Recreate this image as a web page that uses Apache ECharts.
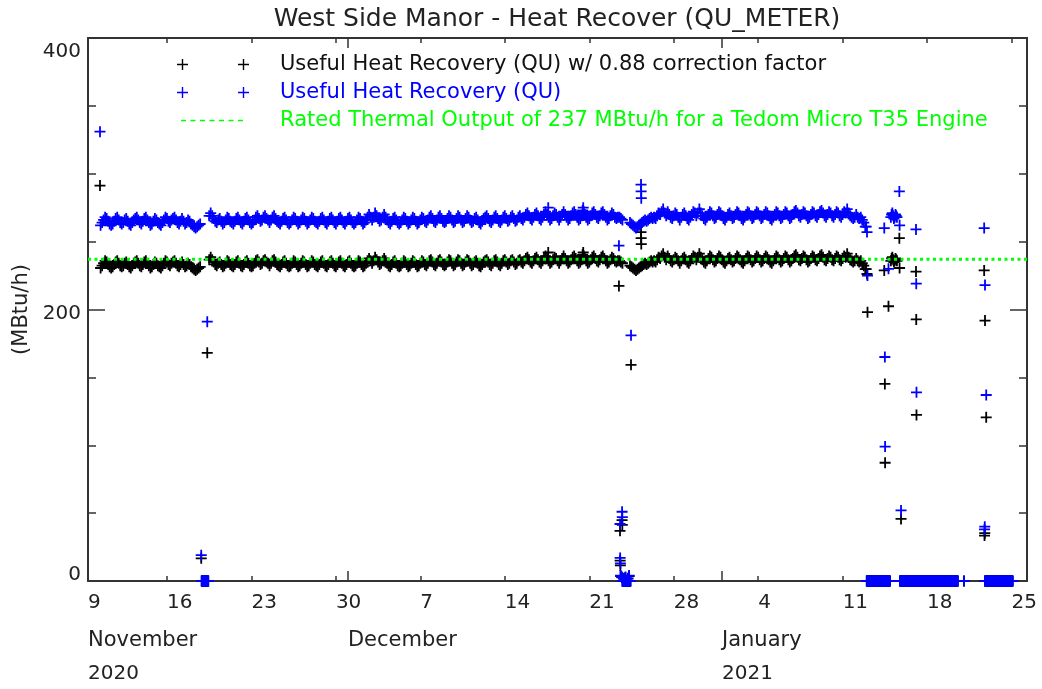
<!DOCTYPE html>
<html><head><meta charset="utf-8">
<script src="https://cdn.jsdelivr.net/npm/echarts@6/dist/echarts.min.js"></script>
<style>html,body{margin:0;padding:0;background:#fff}#c{width:1042px;height:689px}</style>
</head><body><div id="c"></div><script>
// x values are days since 9 November 2020 00:00
const X_MIN = 0.456, X_MAX = 78.28;
const dayTicks = [7,14,21,28,35,42,49,56,63,70,77];
const dayLabels = ['9','16','23','30','7','14','21','28','4','11','18','25'];
const monthTicks = [22, 53];
const monthLabels = ['November','December','January'];
const yearTicks = [53];
const yearLabels = ['2020','2021'];
const yMinorTicks = [50,100,150,250,300,350];
const yMajorTicks = [200];
const yLabels = [0,200,400];
const RATED = 237;
const CORR = 0.88;
const titleText = 'West Side Manor - Heat Recover (QU_METER)';
const nameCorr = 'Useful Heat Recovery (QU) w/ 0.88 correction factor';
const nameQU = 'Useful Heat Recovery (QU)';
const nameRated = 'Rated Thermal Output of 237 MBtu/h for a Tedom Micro T35 Engine';

// QU band, one sample every 3 hours starting at bandStart (one row = one day)
const bandStart = 1.5, bandStep = 0.125;
const bandQU = [
262,264,266,268,267,265,263,262,
263,265,267,268,266,264,263,264,
266,267,265,263,262,264,266,267,
268,266,264,263,265,267,268,266,
264,262,263,265,267,266,264,263,
262,264,266,268,267,265,264,266,
267,268,266,264,263,265,267,265,
263,264,266,265,263,262,261,260,
261,262,263,null,null,null,null,null,
269,271,269,267,265,264,266,267,
265,263,264,266,268,267,265,264,
263,265,267,268,266,264,263,265,
267,268,266,264,263,264,266,268,
269,267,265,266,268,269,267,266,
264,266,268,269,267,265,264,263,
265,267,268,266,264,263,264,266,
268,267,265,263,264,266,268,267,
265,263,264,266,268,267,265,264,
263,265,267,268,266,264,263,265,
267,268,266,264,263,265,267,268,
266,264,263,265,267,268,266,264,
263,264,266,268,267,265,263,264,
266,268,270,268,266,268,271,269,
267,265,266,268,270,268,266,264,
263,265,267,268,266,264,263,264,
266,268,267,265,263,264,266,268,
267,265,263,264,266,268,267,265,
264,266,268,269,267,265,264,266,
268,269,267,265,264,265,267,269,
268,266,264,265,267,269,268,266,
264,265,267,269,268,266,264,265,
267,268,266,264,263,265,267,268,
269,267,265,264,266,268,269,267,
265,264,266,268,269,267,265,266,
268,269,267,265,266,268,269,267,
266,268,270,271,269,267,266,268,
270,271,269,267,266,268,270,272,
270,268,266,267,269,271,270,268,
266,268,270,272,270,268,266,267,
269,271,272,270,268,266,267,269,
271,270,268,266,267,269,271,272,
270,268,267,269,271,272,270,268,
266,267,269,271,270,268,267,268,
268,267,266,null,null,null,null,264,
263,262,261,260,261,262,263,264,
265,266,265,266,267,268,267,268,
267,269,271,270,272,274,271,269,
272,270,268,267,269,271,270,268,
266,268,270,271,269,267,266,268,
270,272,271,269,271,274,271,269,
267,266,268,270,272,271,269,267,
268,270,272,271,269,267,266,268,
270,271,269,267,268,270,272,271,
269,267,266,268,270,272,271,269,
267,268,270,272,271,269,267,268,
270,272,271,269,267,266,268,270,
272,271,269,267,268,270,272,271,
269,267,268,270,272,273,271,269,
268,270,272,271,269,267,268,270,
272,271,269,268,270,272,273,271,
269,268,270,272,271,269,268,270,
272,271,269,268,270,272,271,274,
271,269,268,267,268,270,268,267,
268,266,264,261,null,null,null,null
];

// isolated QU readings [day, MBtu/h]
const outliersQU = [
[1.45,331],
[9.84,19],[10.34,191],
[38.6,275],[41.45,273],[41.5,275],[41.55,272],
[44.46,247],[44.55,42],[44.56,17],[44.58,13],[44.6,4],[44.7,3],[44.72,51],[44.74,47],
[44.85,2],[45.0,3],[45.2,2],[45.3,4],
[45.46,181],[46.29,292],[46.3,287],[46.31,282],
[64.95,261],[65.02,257],[65.06,225],
[66.45,260],[66.5,165],[66.52,99],[66.8,230],
[67.0,268],[67.06,270],[67.12,271],[67.19,269],[67.25,267],[67.31,268],[67.38,270],[67.44,269],[67.5,268],
[67.7,287],[67.72,262],[67.84,52],
[69.08,259],[69.1,219],[69.12,139],
[74.73,260],[74.76,38],[74.78,40],[74.8,218],[74.9,137]
];

// periods with hourly readings of 0 [from day, to day]
const zeroRuns = [[9.88,10.43],[44.75,45.45],[65.0,66.95],[67.75,72.55],[73.05,73.05],[74.8,77.1]];

const quPoints = [];
bandQU.forEach((v, i) => { if (v !== null) quPoints.push([bandStart + i * bandStep, v]); });
outliersQU.forEach(p => quPoints.push(p));
zeroRuns.forEach(([a, b]) => { for (let t = a; t <= b + 1e-9; t += 1 / 24) quPoints.push([t, 0]); });
const corrPoints = quPoints.map(([d, v]) => [d, v * CORR]);

const PLUS = 'path://M4.6,0H6.4V4.6H11V6.4H6.4V11H4.6V6.4H0V4.6H4.6Z';
const PLUS_PAIR = 'path://M4.8,0H6.2V4.8H11V6.2H6.2V11H4.8V6.2H0V4.8H4.8Z M65.8,0H67.2V4.8H72V6.2H67.2V11H65.8V6.2H61V4.8H65.8Z';
const DASHES = 'path://M0,0h0.05v0.05h-0.05Z M71.95,10.95h0.05v0.05h-0.05Z ' +
  'M4,4.8h5v1.4h-5Z M13.5,4.8h5v1.4h-5Z M23,4.8h5v1.4h-5Z M32.5,4.8h5v1.4h-5Z M42,4.8h5v1.4h-5Z M51.5,4.8h5v1.4h-5Z M61,4.8h5v1.4h-5Z';
const FONT = 'DejaVu Sans';
const AX = '#333';
const TXT = '#222';

const dayLabelValues = [X_MIN].concat(dayTicks);
const monthLabelValues = [X_MIN].concat(monthTicks);
const yearLabelValues = [X_MIN].concat(yearTicks);

function baseX(extra) {
  return Object.assign({
    type: 'value', min: X_MIN, max: X_MAX, gridIndex: 0,
    splitLine: { show: false },
    axisLine: { show: false, onZero: false, lineStyle: { color: AX, width: 2 } },
    axisTick: { show: false },
    axisLabel: { show: false }
  }, extra);
}
function baseY(extra) {
  return Object.assign({
    type: 'value', min: 0, max: 400, gridIndex: 0,
    splitLine: { show: false },
    axisLine: { show: false, onZero: false, lineStyle: { color: AX, width: 2 } },
    axisTick: { show: false },
    axisLabel: { show: false }
  }, extra);
}

const chart = echarts.init(document.getElementById('c'), null, { renderer: 'canvas' });
chart.setOption({
  animation: false,
  backgroundColor: '#fff',
  textStyle: { fontFamily: FONT },
  title: {
    text: titleText, left: 552, top: 2, textAlign: 'center',
    textStyle: { fontFamily: FONT, fontSize: 25, fontWeight: 'normal', color: TXT }
  },
  legend: {
    orient: 'vertical', left: 172, top: 49, itemGap: 7,
    itemWidth: 72, itemHeight: 11, selectedMode: false,
    textStyle: { fontFamily: FONT, fontSize: 21, padding: [0, 0, 0, 26] },
    data: [
      { name: nameCorr, icon: PLUS_PAIR, itemStyle: { color: '#000', opacity: 1 }, textStyle: { color: '#111' } },
      { name: nameQU, icon: PLUS_PAIR, itemStyle: { color: '#0000ff', opacity: 1 }, textStyle: { color: '#0000ff' } },
      { name: nameRated, icon: DASHES, itemStyle: { color: '#00ff00', opacity: 1 }, textStyle: { color: '#00ff00' } }
    ]
  },
  grid: { left: 88, right: 15, top: 38, bottom: 108, containLabel: false, outerBoundsMode: 'none' },
  xAxis: [
    baseX({
      position: 'bottom',
      axisLine: { show: true, onZero: false, lineStyle: { color: AX, width: 2 } },
      axisTick: { show: true, inside: true, length: 5, customValues: dayTicks, lineStyle: { color: AX, width: 1.5 } },
      axisLabel: {
        show: true, customValues: dayLabelValues, align: 'left', margin: 12,
        fontFamily: FONT, fontSize: 20, color: TXT,
        formatter: v => dayLabels[Math.round(v / 7)]
      }
    }),
    baseX({
      position: 'bottom',
      axisTick: { show: true, inside: true, length: 10, customValues: monthTicks, lineStyle: { color: AX, width: 1.5 } },
      axisLabel: {
        show: true, customValues: monthLabelValues, align: 'left', margin: 49,
        fontFamily: FONT, fontSize: 21, color: TXT,
        formatter: v => monthLabels[monthLabelValues.findIndex(m => Math.abs(m - v) < 1e-6)]
      }
    }),
    baseX({
      position: 'bottom',
      axisLabel: {
        show: true, customValues: yearLabelValues, align: 'left', margin: 83,
        fontFamily: FONT, fontSize: 20, color: TXT,
        formatter: v => yearLabels[yearLabelValues.findIndex(m => Math.abs(m - v) < 1e-6)]
      }
    }),
    baseX({
      position: 'top',
      axisLine: { show: true, onZero: false, lineStyle: { color: AX, width: 2 } },
      axisTick: { show: true, inside: true, length: 5, customValues: dayTicks, lineStyle: { color: AX, width: 1.5 } }
    }),
    baseX({
      position: 'top',
      axisTick: { show: true, inside: true, length: 10, customValues: monthTicks, lineStyle: { color: AX, width: 1.5 } }
    })
  ],
  yAxis: [
    baseY({
      position: 'left',
      name: '(MBtu/h)', nameLocation: 'middle', nameGap: 55, nameRotate: 90,
      nameTextStyle: { fontFamily: FONT, fontSize: 21, color: TXT },
      axisLine: { show: true, onZero: false, lineStyle: { color: AX, width: 2 } },
      axisTick: { show: true, inside: true, length: 8, customValues: yMinorTicks, lineStyle: { color: AX, width: 1.5 } },
      axisLabel: {
        show: true, customValues: yLabels, margin: 7,
        fontFamily: FONT, fontSize: 20, color: TXT,
        formatter: v => v === 400 ? '{t|' + v + '}' : (v === 0 ? '{b|' + v + '}' : '{m|' + v + '}'),
        rich: {
          t: { fontFamily: FONT, fontSize: 20, color: TXT, padding: [28, 0, 0, 0] },
          m: { fontFamily: FONT, fontSize: 20, color: TXT, padding: [8, 0, 0, 0] },
          b: { fontFamily: FONT, fontSize: 20, color: TXT, padding: [0, 0, 12, 0] }
        }
      }
    }),
    baseY({
      position: 'left',
      axisTick: { show: true, inside: true, length: 17, customValues: yMajorTicks, lineStyle: { color: AX, width: 1.5 } }
    }),
    baseY({
      position: 'right',
      axisLine: { show: true, onZero: false, lineStyle: { color: AX, width: 2 } },
      axisTick: { show: true, inside: true, length: 8, customValues: yMinorTicks, lineStyle: { color: AX, width: 1.5 } }
    }),
    baseY({
      position: 'right',
      axisTick: { show: true, inside: true, length: 17, customValues: yMajorTicks, lineStyle: { color: AX, width: 1.5 } }
    })
  ],
  series: [
    {
      name: nameCorr, type: 'scatter', xAxisIndex: 0, yAxisIndex: 0, silent: true,
      symbol: PLUS, symbolSize: 11, itemStyle: { color: '#000', opacity: 1 }, data: corrPoints
    },
    {
      name: nameQU, type: 'scatter', xAxisIndex: 0, yAxisIndex: 0, silent: true,
      symbol: PLUS, symbolSize: 11, itemStyle: { color: '#0000ff', opacity: 1 }, data: quPoints
    },
    {
      name: nameRated, type: 'line', xAxisIndex: 0, yAxisIndex: 0, silent: true,
      symbol: 'none', lineStyle: { color: '#00ff00', width: 3, type: [3, 3.5] },
      itemStyle: { color: '#00ff00' },
      data: [[X_MIN, RATED], [X_MAX, RATED]]
    }
  ]
});
</script></body></html>
